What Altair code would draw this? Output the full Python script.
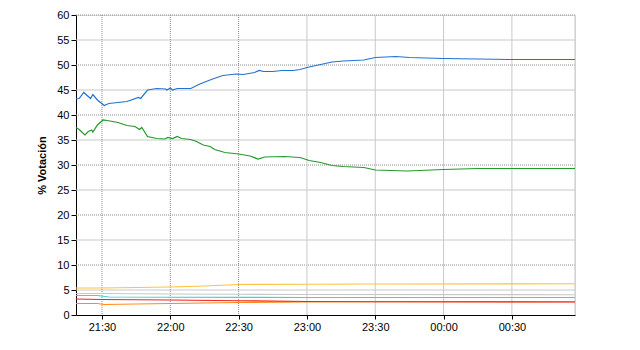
import altair as alt
import pandas as pd

# ---- data ----
blue_t = ["21:18:36", "21:20", "21:22", "21:25", "21:26", "21:28", "21:31", "21:33", "21:41", "21:46",
          "21:47", "21:50", "21:54", "21:58", "21:58:30", "22:00", "22:01", "22:03", "22:09", "22:13",
          "22:18", "22:23", "22:29", "22:32", "22:37", "22:39", "22:41", "22:45", "22:49", "22:54",
          "22:57", "23:00", "23:04", "23:06", "23:11", "23:16", "23:25", "23:30", "23:39", "23:45",
          "00:00", "00:15", "00:29", "00:57:42"]
blue_v = [43.2, 43.3, 44.5, 43.3, 44.1, 43.0, 41.9, 42.3, 42.7, 43.5,
          43.3, 45.0, 45.3, 45.2, 45.0, 45.4, 45.0, 45.3, 45.3, 46.2,
          47.1, 47.9, 48.2, 48.1, 48.5, 48.9, 48.7, 48.7, 48.9, 48.9,
          49.1, 49.5, 49.9, 50.1, 50.6, 50.8, 51.0, 51.5, 51.7, 51.5,
          51.3, 51.2, 51.1, 51.1]

green_t = ["21:18:36", "21:20", "21:22:30", "21:24", "21:25:30", "21:26", "21:28", "21:30:30", "21:33:30", "21:37",
           "21:41", "21:44:30", "21:46:30", "21:47:30", "21:50", "21:54", "21:57:30", "21:59", "22:01", "22:03",
           "22:05", "22:09", "22:11:30", "22:14:30", "22:17:30", "22:19:30", "22:24", "22:30", "22:35", "22:38:30",
           "22:41:30", "22:50", "22:57", "23:01", "23:06", "23:11", "23:16", "23:25", "23:30", "23:44",
           "00:00", "00:15", "00:57:42"]
green_v = [37.5, 37.1, 36.0, 36.7, 37.0, 36.6, 38.0, 39.0, 38.8, 38.5,
           37.9, 37.7, 37.1, 37.5, 35.7, 35.3, 35.2, 35.5, 35.3, 35.7,
           35.3, 35.1, 34.7, 34.0, 33.7, 33.1, 32.5, 32.2, 31.8, 31.2,
           31.6, 31.7, 31.5, 30.9, 30.5, 29.9, 29.7, 29.5, 29.0, 28.8,
           29.1, 29.3, 29.3]

yellow_t = ["21:18:36", "21:30", "22:00", "22:15", "22:30", "23:00", "23:30", "00:57:42"]
yellow_v = [5.4, 5.4, 5.6, 5.8, 6.1, 6.15, 6.2, 6.25]

gray_t = ["21:18:36", "21:30", "22:00", "22:30", "23:00", "00:57:42"]
gray_v = [4.3, 4.3, 4.2, 4.15, 4.1, 4.05]

cyan_t = ["21:18:36", "21:28", "21:33", "22:00", "23:00", "00:57:42"]
cyan_v = [3.9, 3.9, 3.6, 3.55, 3.5, 3.5]

orange_t = ["21:18:36", "21:28", "21:31", "21:45", "22:00", "22:30", "23:00", "23:30", "00:57:42"]
orange_v = [2.3, 2.3, 2.1, 2.2, 2.3, 2.5, 2.6, 2.65, 2.65]

red_t = ["21:18:36", "21:30", "22:00", "22:30", "23:00", "23:30", "00:57:42"]
red_v = [3.2, 3.1, 3.0, 2.85, 2.7, 2.65, 2.6]

x_ticks = ["21:30", "22:00", "22:30", "23:00", "23:30", "00:00", "00:30"]
x_dotted = ["21:30", "22:00", "22:30"]
x_solid = ["23:00", "23:30", "00:00", "00:30", "00:57:42"]
y_ticks = [0, 5, 10, 15, 20, 25, 30, 35, 40, 45, 50, 55, 60]
y_dotted = [10, 20, 30, 40, 50, 60]
y_solid = [5, 15, 25, 35, 45, 55]
x_start, x_end = "21:18:36", "00:57:42"


def parts_of(s):
    parts = [int(p) for p in s.split(":")]
    while len(parts) < 3:
        parts.append(0)
    h, m, sec = parts
    day = 10 if h >= 12 else 11
    return day, h, m, sec


def iso(s):
    day, h, m, sec = parts_of(s)
    return f"2012-01-{day:02d}T{h:02d}:{m:02d}:{sec:02d}"


def dt(s):
    day, h, m, sec = parts_of(s)
    return alt.DateTime(year=2012, month=1, date=day, hours=h, minutes=m, seconds=sec)


series = [
    ("gray", gray_t, gray_v, "#C8C8C8"),
    ("yellow", yellow_t, yellow_v, "#FFC240"),
    ("cyan", cyan_t, cyan_v, "#3FD0D0"),
    ("orange", orange_t, orange_v, "#FF8C1A"),
    ("red", red_t, red_v, "#F52020"),
    ("green", green_t, green_v, "#23992A"),
    ("blue", blue_t, blue_v, "#2272D2"),
]
rows = []
for i, (name, ts, vs, col) in enumerate(series):
    for t, v in zip(ts, vs):
        rows.append({"s": name, "o": i, "t": iso(t), "v": v})
df = pd.DataFrame(rows)

font = "Liberation Sans"
xscale = alt.Scale(domain=[dt(x_start), dt(x_end)])
yscale = alt.Scale(domain=[0, 60])

xaxis = alt.Axis(format="%H:%M", values=[dt(t) for t in x_ticks], tickSize=4, labelFlush=False)
yaxis = alt.Axis(values=y_ticks, tickSize=5, titlePadding=9)

hd = alt.Chart(pd.DataFrame({"v": y_dotted})).mark_rule(
    color="#8C8C8C", strokeDash=[1, 1], strokeWidth=1).encode(
    y=alt.Y("v:Q", scale=yscale, title="% Votación", axis=yaxis))
hs = alt.Chart(pd.DataFrame({"v": y_solid})).mark_rule(
    color="#C8C8C8", strokeWidth=1).encode(
    y=alt.Y("v:Q", scale=yscale, title="% Votación", axis=yaxis))
vd = alt.Chart(pd.DataFrame({"t": [iso(t) for t in x_dotted]})).mark_rule(
    color="#8C8C8C", strokeDash=[1, 1], strokeWidth=1).encode(
    x=alt.X("t:T", scale=xscale, title=None, axis=xaxis))
vs_ = alt.Chart(pd.DataFrame({"t": [iso(t) for t in x_solid]})).mark_rule(
    color="#C8C8C8", strokeWidth=1).encode(
    x=alt.X("t:T", scale=xscale, title=None, axis=xaxis))

lines = alt.Chart(df).mark_line(strokeWidth=1.2, interpolate="linear").encode(
    x=alt.X("t:T", scale=xscale, title=None, axis=xaxis),
    y=alt.Y("v:Q", scale=yscale, title="% Votación", axis=yaxis),
    color=alt.Color("s:N", scale=alt.Scale(domain=[s[0] for s in series], range=[s[3] for s in series]),
                    legend=None),
    order=alt.Order("o:Q"),
)

chart = alt.layer(hs, hd, vs_, vd, lines).properties(
    width=499, height=300,
    padding={"left": 76, "top": 15, "right": 65, "bottom": 35},
    autosize=alt.AutoSizeParams(type="none"),
).configure_view(stroke=None).configure(background="white").configure_axis(
    grid=False, domainColor="black", tickColor="black", labelColor="black",
    labelFont=font, labelFontSize=11, labelPadding=2,
    titleFont=font, titleFontSize=11, titleFontWeight="bold", titleColor="black",
)

chart.save("out.html", embed_options={"renderer": "svg", "actions": False})
